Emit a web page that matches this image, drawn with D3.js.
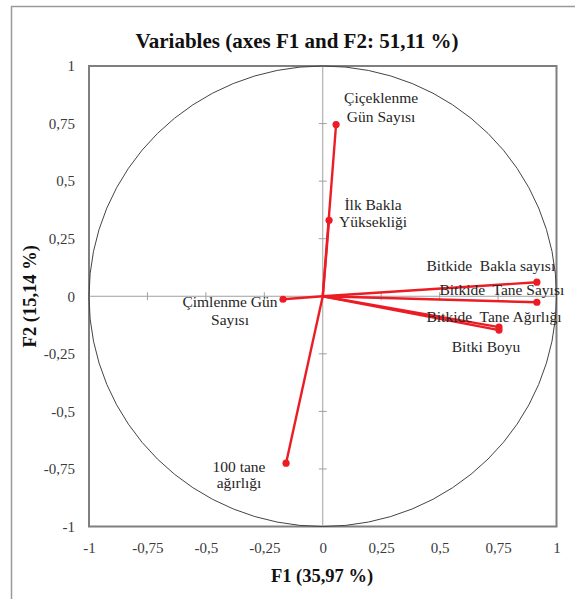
<!DOCTYPE html>
<html>
<head>
<meta charset="utf-8">
<script src="https://cdn.jsdelivr.net/npm/d3@7"></script>
<style>
  html, body { margin: 0; padding: 0; background: #fff; }
  svg { display: block; }
  text { font-family: "Liberation Serif", "Times New Roman", serif; }
</style>
</head>
<body>
<svg id="chart" width="575" height="599"></svg>
<script>
// ---- data ----
const variables = [
  "Çiçeklenme Gün Sayısı",
  "İlk Bakla Yüksekliği",
  "Çimlenme Gün Sayısı",
  "100 tane ağırlığı",
  "Bitkide Bakla sayısı",
  "Bitkide Tane Sayısı",
  "Bitkide Tane Ağırlığı",
  "Bitki Boyu"
];
const f1 = [0.057, 0.027, -0.170, -0.157, 0.916, 0.916, 0.754, 0.754];
const f2 = [0.746, 0.330, -0.013, -0.725, 0.061, -0.026, -0.134, -0.147];
const tickValues = [-1, -0.75, -0.5, -0.25, 0, 0.25, 0.5, 0.75, 1];
const tickLabels = ["-1", "-0,75", "-0,5", "-0,25", "0", "0,25", "0,5", "0,75", "1"];
const titleText = "Variables (axes F1 and F2: 51,11 %)";
const xTitle = "F1 (35,97 %)";
const yTitle = "F2 (15,14 %)";

// label layout (lines, offsets in px from the point)
const labelLayout = [
  { lines: ["Çiçeklenme", "Gün Sayısı"], dx: 45, dy: [-21, -2] },
  { lines: ["İlk Bakla", "Yüksekliği"], dx: 44, dy: [-10, 7] },
  { lines: ["Çimlenme Gün", "Sayısı"], dx: -53, dy: [8, 26] },
  { lines: ["100 tane", "ağırlığı"], dx: -47, dy: [9, 25] },
  { lines: ["Bitkide  Bakla sayısı"], dx: -46, dy: [-11] },
  { lines: ["Bitkide  Tane Sayısı"], dx: -35, dy: [-7] },
  { lines: ["Bitkide  Tane Ağırlığı"], dx: -5, dy: [-5] },
  { lines: ["Bitki Boyu"], dx: -13, dy: [22] }
];

// ---- drawing ----
const svg = d3.select("#chart");
const pLeft = 89, pRight = 556.5, pTop = 66, pBottom = 526.5;
const x = d3.scaleLinear().domain([-1, 1]).range([pLeft, pRight]);
const y = d3.scaleLinear().domain([-1, 1]).range([pBottom, pTop]);

// outer border (left + top)
svg.append("path")
  .attr("d", `M11.5,599 L11.5,6.5 L575,6.5`)
  .attr("fill", "none").attr("stroke", "#9a9a9a").attr("stroke-width", 1.5);

// title
svg.append("text").attr("x", 297).attr("y", 48)
  .attr("text-anchor", "middle").attr("font-weight", "bold")
  .attr("font-size", 21).attr("fill", "#111").text(titleText);

// frame
svg.append("rect").attr("x", pLeft).attr("y", pTop)
  .attr("width", pRight - pLeft).attr("height", pBottom - pTop)
  .attr("fill", "none").attr("stroke", "#7f7f7f").attr("stroke-width", 2);

// zero axes
svg.append("line").attr("x1", pLeft).attr("x2", pRight).attr("y1", y(0)).attr("y2", y(0))
  .attr("stroke", "#a0a0a0").attr("stroke-width", 1);
svg.append("line").attr("y1", pTop).attr("y2", pBottom).attr("x1", x(0)).attr("x2", x(0))
  .attr("stroke", "#a0a0a0").attr("stroke-width", 1);

// small ticks on zero axes
const inner = tickValues.filter(v => v !== 0 && Math.abs(v) !== 1);
svg.selectAll(".tx").data(inner).join("line")
  .attr("x1", d => x(d)).attr("x2", d => x(d))
  .attr("y1", y(0) - 4).attr("y2", y(0) + 4)
  .attr("stroke", "#a0a0a0").attr("stroke-width", 1);
svg.selectAll(".ty").data(inner).join("line")
  .attr("y1", d => y(d)).attr("y2", d => y(d))
  .attr("x1", x(0) - 4).attr("x2", x(0) + 4)
  .attr("stroke", "#a0a0a0").attr("stroke-width", 1);

// circle
svg.append("ellipse").attr("cx", x(0)).attr("cy", y(0))
  .attr("rx", x(1) - x(0)).attr("ry", y(0) - y(1))
  .attr("fill", "none").attr("stroke", "#444").attr("stroke-width", 1);

// axes tick labels
const xAxis = d3.axisBottom(x).tickValues(tickValues)
  .tickFormat((d, i) => tickLabels[i]).tickSize(0).tickPadding(16);
const gx = svg.append("g").attr("transform", `translate(0,${pBottom})`).call(xAxis);
gx.select(".domain").remove();
gx.selectAll("text").attr("font-family", "Liberation Serif, serif")
  .attr("font-size", 15).attr("fill", "#3a3a3a");

const yAxis = d3.axisLeft(y).tickValues(tickValues)
  .tickFormat((d, i) => tickLabels[i]).tickSize(0).tickPadding(14);
const gy = svg.append("g").attr("transform", `translate(${pLeft},0)`).call(yAxis);
gy.select(".domain").remove();
gy.selectAll("text").attr("font-family", "Liberation Serif, serif")
  .attr("font-size", 15).attr("fill", "#3a3a3a");

// axis titles
svg.append("text").attr("x", 322).attr("y", 582)
  .attr("text-anchor", "middle").attr("font-weight", "bold")
  .attr("font-size", 18.5).attr("fill", "#111").text(xTitle);
svg.append("text").attr("transform", `translate(36,${y(0)}) rotate(-90)`)
  .attr("text-anchor", "middle").attr("font-weight", "bold")
  .attr("font-size", 18.5).attr("fill", "#111").text(yTitle);

// vectors
const pts = variables.map((v, i) => ({ name: v, a: f1[i], b: f2[i], lab: labelLayout[i] }));
svg.selectAll(".vec").data(pts).join("line")
  .attr("x1", x(0)).attr("y1", y(0))
  .attr("x2", d => x(d.a)).attr("y2", d => y(d.b))
  .attr("stroke", "#ec1c24").attr("stroke-width", 2.4);
svg.selectAll(".dot").data(pts).join("circle")
  .attr("cx", d => x(d.a)).attr("cy", d => y(d.b)).attr("r", 3.6)
  .attr("fill", "#ec1c24");

// labels
const lg = svg.selectAll(".lab").data(pts).join("text")
  .attr("text-anchor", "middle").attr("font-size", 15.5).attr("fill", "#262626")
  .style("white-space", "pre");
lg.selectAll("tspan").data(d => d.lab.lines.map((l, j) => ({ l, x: x(d.a) + d.lab.dx, y: y(d.b) + d.lab.dy[j] })))
  .join("tspan")
  .attr("x", d => d.x).attr("y", d => d.y).text(d => d.l);
</script>
</body>
</html>
